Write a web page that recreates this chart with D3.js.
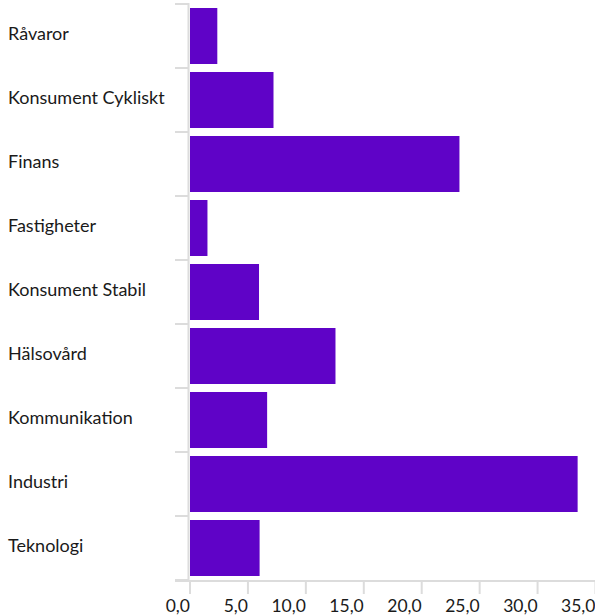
<!DOCTYPE html>
<html>
<head>
<meta charset="utf-8">
<script src="https://cdn.jsdelivr.net/npm/d3@7"></script>
<style>
  body { margin: 0; background: #fff; }
  text { font-family: Lato, "Open Sans", sans-serif; fill: #1a1a1a; }
</style>
</head>
<body>
<svg id="chart" width="595" height="616"></svg>
<script>
// data
const sectors = ["Råvaror", "Konsument Cykliskt", "Finans", "Fastigheter", "Konsument Stabil",
  "Hälsovård", "Kommunikation", "Industri", "Teknologi"];
const weights = [2.4, 7.25, 23.3, 1.55, 6.0, 12.6, 6.7, 33.5, 6.05];
const xTicks = [0, 5, 10, 15, 20, 25, 30, 35];

const svg = d3.select("#chart");
const axisColor = "#dcdcdc";

const x = d3.scaleLinear().domain([0, 35]).range([189.5, 595]);
const y = d3.scaleBand().domain(sectors).range([4, 580])
  .paddingInner(0.125).paddingOuter(0.0625);

// bars
svg.append("g").selectAll("rect")
  .data(sectors)
  .join("rect")
  .attr("x", x(0) + 0.5)
  .attr("y", d => y(d))
  .attr("width", (d, i) => x(weights[i]) - x(0) - 0.5)
  .attr("height", y.bandwidth())
  .attr("fill", "#5f03c7");

// category separators (ticks between bands)
const gap = y.step() * y.paddingInner() / 2;
const bounds = sectors.map(d => y(d) - gap).concat([y(sectors[sectors.length - 1]) + y.bandwidth() + gap]);
svg.append("g").selectAll("line")
  .data(bounds)
  .join("line")
  .attr("x1", 175).attr("x2", 189)
  .attr("y1", d => d).attr("y2", d => d)
  .attr("stroke", axisColor).attr("stroke-width", 2);

// left axis line
svg.append("line")
  .attr("x1", 188.5).attr("x2", 188.5)
  .attr("y1", bounds[0] - 1).attr("y2", 581)
  .attr("stroke", axisColor).attr("stroke-width", 2);

// category labels
svg.append("g").selectAll("text")
  .data(sectors)
  .join("text")
  .attr("x", 8)
  .attr("y", d => y(d) + y.bandwidth() / 2 - 2)
  .attr("dy", "0.35em")
  .attr("font-size", 18)
  .text(d => d);

// bottom axis
const xAxis = svg.append("g")
  .attr("transform", "translate(0,581)")
  .call(d3.axisBottom(x).tickValues(xTicks).tickSize(13)
    .tickFormat(d => d.toFixed(1).replace(".", ",")));
xAxis.select(".domain").remove();
xAxis.selectAll(".tick line").attr("stroke", axisColor).attr("stroke-width", 2);
xAxis.selectAll(".tick text")
  .attr("text-anchor", "end")
  .attr("y", 31)
  .attr("dy", null)
  .attr("font-size", 17.5)
  .attr("font-family", "Lato, 'Open Sans', sans-serif")
  .attr("fill", "#1a1a1a");
svg.append("line")
  .attr("x1", 175).attr("x2", 595)
  .attr("y1", 581).attr("y2", 581)
  .attr("stroke", axisColor).attr("stroke-width", 2);
</script>
</body>
</html>
